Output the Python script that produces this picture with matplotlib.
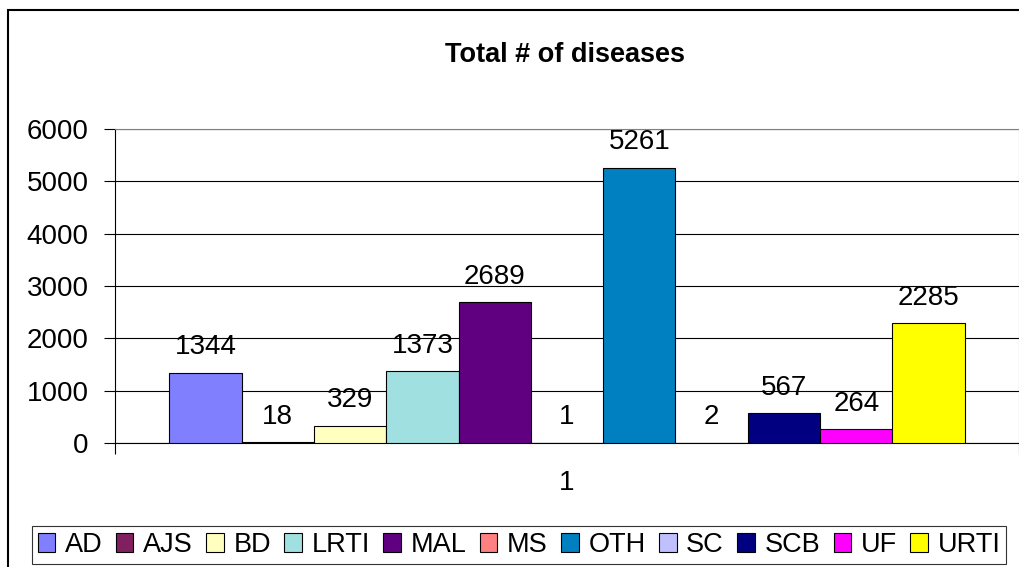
import matplotlib
matplotlib.use("Agg")
import matplotlib.pyplot as plt
from matplotlib.patches import Rectangle

plt.rcParams["font.family"] = ["Liberation Sans", "DejaVu Sans"]

diseases = ["AD", "AJS", "BD", "LRTI", "MAL", "MS", "OTH", "SC", "SCB", "UF", "URTI"]
counts = [1344, 18, 329, 1373, 2689, 1, 5261, 2, 567, 264, 2285]
colors = ["#8080FF", "#802060", "#FFFFC0", "#A0E0E0", "#600080", "#FF8080",
          "#0080C0", "#C0C0FF", "#000080", "#FF00FF", "#FFFF00"]
yticks = [0, 1000, 2000, 3000, 4000, 5000, 6000]
category = "1"


def main():
    fig = plt.figure(figsize=(10.2, 5.67), dpi=100)
    W, H = 1020, 567
    ax = fig.add_axes([115 / W, 1 - 443 / H, 904 / W, 314 / H])

    # one category, 11 bars side by side with Excel-style gap
    width = 1 / 12.5
    start = -0.5 + 0.75 * width
    for i, (name, val, col) in enumerate(zip(diseases, counts, colors)):
        x = start + i * width
        ax.bar(x, val, width=width, align="edge", color=col,
               edgecolor="black", linewidth=0.8, label=name, zorder=3)
        ax.annotate(str(val), (x + width / 2, val), xytext=(0, 9),
                    textcoords="offset points", ha="center", va="bottom",
                    fontsize=20, zorder=4)

    ax.set_xlim(-0.5, 0.5)
    ax.set_ylim(0, 6000)
    ax.set_yticks(yticks)
    ax.tick_params(axis="y", labelsize=20, length=8, direction="out",
                   width=0.8, pad=11)
    ax.yaxis.grid(True, color="black", linewidth=0.8, zorder=0)
    ax.set_axisbelow(True)
    ax.set_xticks([-0.5, 0.5])
    ax.set_xticklabels(["", ""])
    ax.tick_params(axis="x", length=8, direction="out", width=0.8)
    ax.text(0, -0.127, category, transform=ax.get_xaxis_transform(),
            ha="center", va="center", fontsize=20)

    for side in ["top", "right"]:
        ax.spines[side].set_color("#808080")
    for side in ["left", "bottom"]:
        ax.spines[side].set_color("black")
        ax.spines[side].set_linewidth(0.8)

    fig.text(565 / W, 1 - 55 / H, "Total # of diseases", ha="center",
             va="center", fontsize=19.5, fontweight="bold")

    # chart frame (left and top edges visible)
    fig.patches.append(Rectangle((8 / W, -0.1), 1.2, 1 - 10 / H + 0.1,
                                 transform=fig.transFigure, fill=False,
                                 edgecolor="black", linewidth=1.5))

    leg = fig.legend(loc="center", bbox_to_anchor=(519 / W, 1 - 545 / H),
                     ncol=11, fontsize=19.5, frameon=True, fancybox=False,
                     edgecolor="black", handlelength=0.65, handleheight=0.65,
                     handletextpad=0.35, columnspacing=0.5, borderpad=0.22,
                     borderaxespad=0)
    leg.get_frame().set_linewidth(0.8)

    fig.savefig("out.png", dpi=100)
    plt.close(fig)


if __name__ == "__main__":
    main()
